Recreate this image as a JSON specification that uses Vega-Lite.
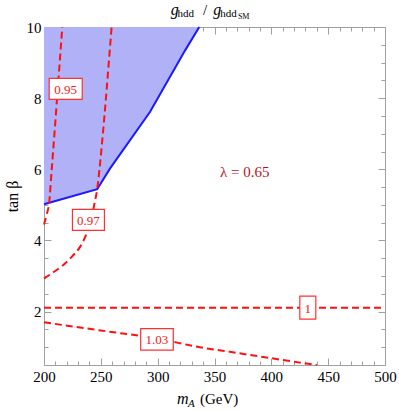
{
  "$schema": "https://vega.github.io/schema/vega-lite/v6.json",
  "width": 341,
  "height": 338,
  "autosize": "none",
  "padding": {"left": 44, "top": 27, "right": 14, "bottom": 46},
  "config": {"view": {"stroke": null}, "font": "Liberation Serif"},
  "datasets": {
    "blue": [
      {"mA": 200, "tanb": 5.02},
      {"mA": 246.8, "tanb": 5.44},
      {"mA": 258, "tanb": 6.02},
      {"mA": 293.2, "tanb": 7.61},
      {"mA": 324.3, "tanb": 9.35},
      {"mA": 336.6, "tanb": 10}
    ],
    "contours": [
      {"c": "0.95", "ord": 1, "mA": 200, "tanb": 4.45},
      {"c": "0.95", "ord": 2, "mA": 202.5, "tanb": 4.75},
      {"c": "0.95", "ord": 3, "mA": 204.4, "tanb": 5.02},
      {"c": "0.95", "ord": 4, "mA": 206.8, "tanb": 6},
      {"c": "0.95", "ord": 5, "mA": 209.2, "tanb": 7},
      {"c": "0.95", "ord": 6, "mA": 211.5, "tanb": 8},
      {"c": "0.95", "ord": 7, "mA": 213.8, "tanb": 9},
      {"c": "0.95", "ord": 8, "mA": 216.1, "tanb": 10},
      {"c": "0.97", "ord": 1, "mA": 200, "tanb": 2.93},
      {"c": "0.97", "ord": 2, "mA": 208, "tanb": 3.1},
      {"c": "0.97", "ord": 3, "mA": 217, "tanb": 3.31},
      {"c": "0.97", "ord": 4, "mA": 225, "tanb": 3.56},
      {"c": "0.97", "ord": 5, "mA": 231.7, "tanb": 3.82},
      {"c": "0.97", "ord": 6, "mA": 236.5, "tanb": 4.12},
      {"c": "0.97", "ord": 7, "mA": 240.5, "tanb": 4.48},
      {"c": "0.97", "ord": 8, "mA": 245, "tanb": 5.13},
      {"c": "0.97", "ord": 9, "mA": 246.8, "tanb": 5.44},
      {"c": "0.97", "ord": 10, "mA": 248.8, "tanb": 6},
      {"c": "0.97", "ord": 11, "mA": 251.8, "tanb": 7},
      {"c": "0.97", "ord": 12, "mA": 254.5, "tanb": 8},
      {"c": "0.97", "ord": 13, "mA": 257, "tanb": 9},
      {"c": "0.97", "ord": 14, "mA": 259.5, "tanb": 10},
      {"c": "1", "ord": 1, "mA": 200, "tanb": 2.11},
      {"c": "1", "ord": 2, "mA": 500, "tanb": 2.11},
      {"c": "1.03", "ord": 1, "mA": 200, "tanb": 1.7},
      {"c": "1.03", "ord": 2, "mA": 250, "tanb": 1.47},
      {"c": "1.03", "ord": 3, "mA": 300, "tanb": 1.24},
      {"c": "1.03", "ord": 4, "mA": 337, "tanb": 1.0},
      {"c": "1.03", "ord": 5, "mA": 363.6, "tanb": 0.87},
      {"c": "1.03", "ord": 6, "mA": 400, "tanb": 0.69},
      {"c": "1.03", "ord": 7, "mA": 440, "tanb": 0.5}
    ],
    "labels": [
      {"c": "0.95", "mA": 219.1, "tanb": 8.26},
      {"c": "0.97", "mA": 239.1, "tanb": 4.58},
      {"c": "1", "mA": 432.1, "tanb": 2.11},
      {"c": "1.03", "mA": 299.4, "tanb": 1.22}
    ],
    "annot": [
      {"kind": "lambda", "t": "λ = 0.65", "mA": 354.8, "tanb": 5.79},
      {"kind": "big", "t": "g", "mA": 311.5, "tanb": 10.33},
      {"kind": "sub", "t": "hdd", "mA": 317.4, "tanb": 10.29},
      {"kind": "slash", "t": "/", "mA": 339.9, "tanb": 10.33},
      {"kind": "big", "t": "g", "mA": 349.0, "tanb": 10.33},
      {"kind": "sub", "t": "hdd", "mA": 355.0, "tanb": 10.29},
      {"kind": "subsub", "t": "SM", "mA": 370.6, "tanb": 10.22},
      {"kind": "big", "t": "m", "mA": 317.0, "tanb": -0.598},
      {"kind": "xsub", "t": "A", "mA": 326.7, "tanb": -0.68},
      {"kind": "slash", "t": "(GeV)", "mA": 337.2, "tanb": -0.598}
    ]
  },
  "resolve": {"axis": {"x": "independent", "y": "independent"}},
  "layer": [
    {
      "data": {"name": "blue"},
      "mark": {"type": "area", "color": "#b1b1f7", "opacity": 1},
      "encoding": {
        "x": {"field": "mA", "type": "quantitative",
          "scale": {"domain": [200, 500], "nice": false, "zero": false},
          "axis": {"orient": "bottom", "title": null, "grid": false, "format": "d",
            "values": [200,210,220,230,240,250,260,270,280,290,300,310,320,330,340,350,360,370,380,390,400,410,420,430,440,450,460,470,480,490,500],
            "labelExpr": "datum.value % 50 === 0 ? datum.label : ''",
            "tickSize": {"condition": {"test": "datum.value % 50 === 0", "value": -7}, "value": -4},
            "labelPadding": 11, "labelFlush": false, "labelOverlap": false, "labelBound": false,
            "domainColor": "#a0a0a0", "tickColor": "#a0a0a0", "labelColor": "#000",
            "labelFont": "Liberation Serif", "labelFontSize": 15}},
        "y": {"field": "tanb", "type": "quantitative",
          "scale": {"domain": [0.5, 10], "nice": false, "zero": false},
          "axis": {"orient": "left", "title": "tan β", "grid": false, "format": "~g",
            "values": [0.5,1,1.5,2,2.5,3,3.5,4,4.5,5,5.5,6,6.5,7,7.5,8,8.5,9,9.5,10],
            "labelExpr": "datum.value % 2 === 0 ? datum.label : ''",
            "tickSize": {"condition": {"test": "datum.value % 2 === 0", "value": -7}, "value": -4},
            "labelPadding": 10, "labelFlush": false, "labelOverlap": false, "labelBound": false,
            "domainColor": "#a0a0a0", "tickColor": "#a0a0a0", "labelColor": "#000",
            "labelFont": "Liberation Serif", "labelFontSize": 15,
            "titleFont": "Liberation Serif", "titleFontSize": 16, "titleFontWeight": "normal",
            "titleColor": "#000", "titlePadding": 6}},
        "y2": {"datum": 10}
      }
    },
    {
      "data": {"name": "blue"},
      "mark": {"type": "line", "color": "#1a1aff", "strokeWidth": 2},
      "encoding": {
        "x": {"field": "mA", "type": "quantitative",
          "scale": {"domain": [200, 500], "nice": false, "zero": false},
          "axis": {"orient": "top", "title": null, "grid": false, "labels": false,
            "values": [200,210,220,230,240,250,260,270,280,290,300,310,320,330,340,350,360,370,380,390,400,410,420,430,440,450,460,470,480,490,500],
            "tickSize": {"condition": {"test": "datum.value % 50 === 0", "value": -7}, "value": -4},
            "domainColor": "#a0a0a0", "tickColor": "#a0a0a0"}},
        "y": {"field": "tanb", "type": "quantitative",
          "scale": {"domain": [0.5, 10], "nice": false, "zero": false},
          "axis": {"orient": "right", "title": null, "grid": false, "labels": false,
            "values": [0.5,1,1.5,2,2.5,3,3.5,4,4.5,5,5.5,6,6.5,7,7.5,8,8.5,9,9.5,10],
            "tickSize": {"condition": {"test": "datum.value % 2 === 0", "value": -7}, "value": -4},
            "domainColor": "#a0a0a0", "tickColor": "#a0a0a0"}}
      }
    },
    {
      "data": {"name": "contours"},
      "mark": {"type": "line", "color": "#ff1010", "strokeWidth": 2, "strokeDash": [7, 4], "interpolate": "monotone"},
      "encoding": {
        "x": {"field": "mA", "type": "quantitative", "axis": null},
        "y": {"field": "tanb", "type": "quantitative", "axis": null},
        "detail": {"field": "c"},
        "order": {"field": "ord", "type": "quantitative"}
      }
    },
    {
      "data": {"name": "labels"},
      "mark": {"type": "point", "filled": true, "fill": "#ffffff", "stroke": "#ff3030", "strokeWidth": 1.2, "opacity": 1, "size": 400},
      "encoding": {
        "x": {"field": "mA", "type": "quantitative", "axis": null},
        "y": {"field": "tanb", "type": "quantitative", "axis": null},
        "shape": {"field": "c", "type": "nominal", "legend": null,
          "scale": {"domain": ["0.95", "0.97", "1", "1.03"],
            "range": ["M-1.65,-1.05H1.65V1.05H-1.65Z", "M-1.6,-1.05H1.6V1.05H-1.6Z", "M-0.8,-1.15H0.8V1.15H-0.8Z", "M-1.63,-1.08H1.63V1.08H-1.63Z"]}}
      }
    },
    {
      "data": {"name": "labels"},
      "mark": {"type": "text", "color": "#f02020", "font": "Liberation Serif", "fontSize": 13, "baseline": "middle", "align": "center", "dy": 1},
      "encoding": {
        "x": {"field": "mA", "type": "quantitative", "axis": null},
        "y": {"field": "tanb", "type": "quantitative", "axis": null},
        "text": {"field": "c"}
      }
    },
    {
      "data": {"name": "annot"},
      "transform": [{"filter": "datum.kind === 'lambda'"}],
      "mark": {"type": "text", "color": "#b8141c", "font": "Liberation Serif", "fontSize": 15, "baseline": "alphabetic", "align": "left"},
      "encoding": {
        "x": {"field": "mA", "type": "quantitative", "axis": null},
        "y": {"field": "tanb", "type": "quantitative", "axis": null},
        "text": {"field": "t"}
      }
    },
    {
      "data": {"name": "annot"},
      "transform": [{"filter": "datum.kind === 'big'"}],
      "mark": {"type": "text", "color": "#000", "font": "Liberation Serif", "fontSize": 16, "fontStyle": "italic", "baseline": "alphabetic", "align": "left"},
      "encoding": {
        "x": {"field": "mA", "type": "quantitative", "axis": null},
        "y": {"field": "tanb", "type": "quantitative", "axis": null},
        "text": {"field": "t"}
      }
    },
    {
      "data": {"name": "annot"},
      "transform": [{"filter": "datum.kind === 'slash'"}],
      "mark": {"type": "text", "color": "#000", "font": "Liberation Serif", "fontSize": 15, "baseline": "alphabetic", "align": "left"},
      "encoding": {
        "x": {"field": "mA", "type": "quantitative", "axis": null},
        "y": {"field": "tanb", "type": "quantitative", "axis": null},
        "text": {"field": "t"}
      }
    },
    {
      "data": {"name": "annot"},
      "transform": [{"filter": "datum.kind === 'sub'"}],
      "mark": {"type": "text", "color": "#000", "font": "Liberation Serif", "fontSize": 11, "baseline": "alphabetic", "align": "left"},
      "encoding": {
        "x": {"field": "mA", "type": "quantitative", "axis": null},
        "y": {"field": "tanb", "type": "quantitative", "axis": null},
        "text": {"field": "t"}
      }
    },
    {
      "data": {"name": "annot"},
      "transform": [{"filter": "datum.kind === 'subsub'"}],
      "mark": {"type": "text", "color": "#000", "font": "Liberation Serif", "fontSize": 8, "baseline": "alphabetic", "align": "left"},
      "encoding": {
        "x": {"field": "mA", "type": "quantitative", "axis": null},
        "y": {"field": "tanb", "type": "quantitative", "axis": null},
        "text": {"field": "t"}
      }
    },
    {
      "data": {"name": "annot"},
      "transform": [{"filter": "datum.kind === 'xsub'"}],
      "mark": {"type": "text", "color": "#000", "font": "Liberation Serif", "fontSize": 11, "fontStyle": "italic", "baseline": "alphabetic", "align": "left"},
      "encoding": {
        "x": {"field": "mA", "type": "quantitative", "axis": null},
        "y": {"field": "tanb", "type": "quantitative", "axis": null},
        "text": {"field": "t"}
      }
    }
  ]
}
